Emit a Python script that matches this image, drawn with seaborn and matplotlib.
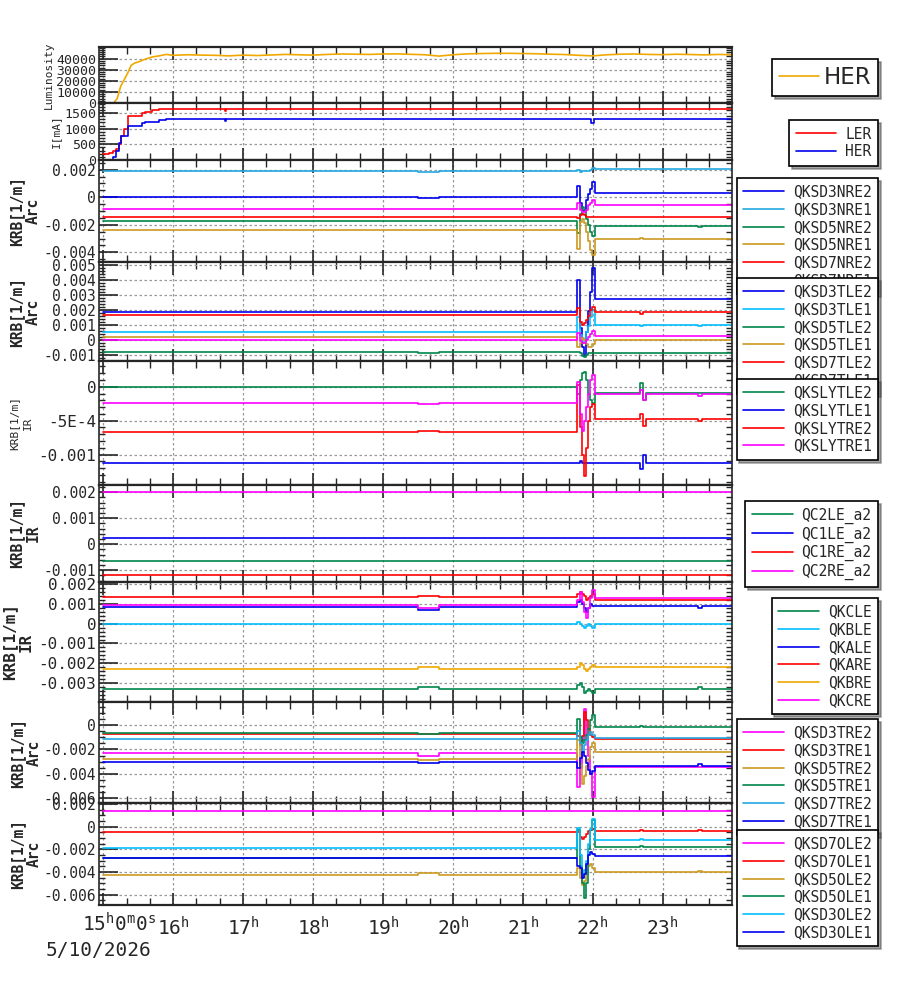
import matplotlib
matplotlib.use('Agg')
import matplotlib.pyplot as plt
import seaborn as sns
from matplotlib.ticker import AutoMinorLocator, MultipleLocator

sns.set_style('ticks')
plt.rcParams['font.family'] = ['DejaVu Sans Mono', 'DejaVu Sans']
plt.rcParams['mathtext.fontset'] = 'custom'
plt.rcParams['mathtext.rm'] = 'DejaVu Sans Mono'
plt.rcParams['mathtext.it'] = 'DejaVu Sans Mono'

# Colores
BLUE = '#0000ee'
CYAN = '#00bfff'
LBLUE = '#22a8e0'
GREEN = '#00884a'
GOLD = '#cc9922'
RED = '#ff0000'
MAG = '#ff00ff'
ORANGE = '#f0a800'

# --- Luminosidad ---
lum_t = [15.0, 15.15, 15.2, 15.25, 15.3, 15.35, 15.4, 15.45, 15.5, 15.6, 15.7, 15.8, 15.9, 16.0,
         16.2, 16.4, 16.6, 16.8, 17.0, 17.2, 17.4, 17.6, 17.8, 18.0, 18.2, 18.4, 18.6, 18.8, 19.0,
         19.2, 19.4, 19.6, 19.8, 20.0, 20.2, 20.4, 20.6, 20.8, 21.0, 21.2, 21.4, 21.6, 21.8, 22.0,
         22.2, 22.4, 22.6, 22.8, 23.0, 23.2, 23.4, 23.6, 23.8, 24.0]
lum_her = [0, 0, 4000, 15000, 21000, 27000, 34000, 36000, 37000, 39500, 41500, 42500, 43800, 43000,
           43500, 43200, 43000, 42500, 43200, 42800, 43300, 43800, 43500, 43200, 43800, 44200, 44000,
           43800, 44200, 44300, 43900, 43500, 42300, 43500, 44300, 44600, 44800, 44800, 44600, 44400,
           44000, 43700, 43000, 42500, 43500, 44000, 44200, 43800, 43600, 44000, 43700, 43400, 43800,
           43500]
lum_ticks = [0, 10000, 20000, 30000, 40000]

# --- Corrientes ---
cur_t = [15.0, 15.09, 15.14, 15.18, 15.22, 15.26, 15.3, 15.35, 15.42, 15.55, 15.6, 15.7, 15.8, 15.9,
         16.74, 16.76, 21.98, 22.02, 24.0]
ler_ma = [190, 230, 290, 340, 500, 760, 980, 1400, 1400, 1490, 1530, 1600, 1620, 1640, 1570, 1640,
          1640, 1640, 1640]
her_ma = [0, 0, 100, 300, 550, 770, 770, 1100, 1100, 1170, 1200, 1220, 1280, 1300, 1260, 1300, 1180,
          1300, 1300]
cur_ticks = [0, 500, 1000, 1500]

# --- KRB: rejilla de tiempo comun ---
krb_t = [15.0, 19.5, 19.8, 21.75, 21.78, 21.81, 21.84, 21.87, 21.9, 21.93, 21.96, 21.99, 22.03,
         22.68, 22.72, 22.76, 23.5, 23.56, 24.0]

# Arc NRE
QKSD3NRE2 = [0, -0.00005, 0, 0, 0.0008, -0.0004, -0.001, -0.0009, -0.0002, 0.0002, 0.0006, 0.0011,
             0.0003, 0.0003, 0.0003, 0.0003, 0.0003, 0.0003, 0.0003]
QKSD3NRE1 = [0.0019, 0.00185, 0.0019, 0.0019, 0.002, 0.0018, 0.0019, 0.0019, 0.0019, 0.0019, 0.002,
             0.0021, 0.00205, 0.00205, 0.00205, 0.00205, 0.00205, 0.00205, 0.00205]
QKSD5NRE2 = [-0.00175, -0.00175, -0.00175, -0.00175, -0.0026, -0.0012, -0.0007, -0.0009, -0.0016,
             -0.002, -0.0025, -0.0028, -0.0021, -0.0021, -0.0021, -0.0021, -0.00215, -0.0021, -0.0021]
QKSD5NRE1 = [-0.0024, -0.00235, -0.0024, -0.0024, -0.00375, -0.0018, -0.0016, -0.0019, -0.0025,
             -0.0032, -0.0038, -0.0042, -0.003, -0.00295, -0.003, -0.003, -0.003, -0.003, -0.003]
QKSD7NRE2 = [-0.00145, -0.00145, -0.00145, -0.00145, -0.0015, -0.0013, -0.0012, -0.0013, -0.0014,
             -0.00145, -0.00145, -0.00145, -0.00145, -0.00145, -0.00145, -0.00145, -0.00145,
             -0.00145, -0.00145]
QKSD7NRE1 = [-0.00082, -0.00085, -0.00082, -0.00082, -0.0004, -0.0009, -0.0011, -0.0011, -0.0009,
             -0.0006, -0.0004, -0.0002, -0.0006, -0.0006, -0.0006, -0.0006, -0.0006, -0.0006, -0.0006]
nre_ticks = [-0.004, -0.002, 0, 0.002]
nre_labels = ['-0.004', '-0.002', '0', '0.002']

# Arc TLE
QKSD3TLE2 = [0.00181, 0.00181, 0.00181, 0.00181, 0.004, 0.0008, -0.0005, -0.0011, 0.0005, 0.0019,
             0.0032, 0.00475, 0.00268, 0.00268, 0.00268, 0.00268, 0.00268, 0.00268, 0.00268]
QKSD3TLE1 = [0.00048, 0.0005, 0.00048, 0.00048, 0.0015, 0.0003, -0.0002, 0.0, 0.0005, 0.0009, 0.0015,
             0.002, 0.00097, 0.0009, 0.00097, 0.00097, 0.0009, 0.00097, 0.00097]
QKSD5TLE2 = [-0.00085, -0.0009, -0.00085, -0.00085, -0.0008, -0.0009, -0.0011, -0.00115, -0.001,
             -0.0009, -0.0009, -0.0009, -0.00092, -0.00092, -0.00092, -0.00092, -0.00092, -0.00092,
             -0.00092]
QKSD5TLE1 = [0.00019, 0.00019, 0.00019, 0.00019, -0.0005, -0.0002, 0.0001, 0.0, -0.0003, -0.0005,
             -0.0005, -0.0003, -0.00005, -0.00005, -0.00005, -0.00005, -0.00005, -0.00005, -0.00005]
QKSD7TLE2 = [0.00163, 0.00163, 0.00163, 0.00163, 0.0021, 0.0012, 0.001, 0.0011, 0.0013, 0.0016, 0.002,
             0.0022, 0.00181, 0.0017, 0.00181, 0.00181, 0.00181, 0.00181, 0.00181]
QKSD7TLE1 = [-0.00003, -0.00003, -0.00003, -0.00003, 0.00045, -0.0001, -0.00024, -0.0002, 0.0, 0.0002,
             0.0004, 0.0006, 0.00023, 0.00023, 0.00023, 0.00023, 0.00023, 0.00023, 0.00023]
tle_ticks = [-0.001, 0, 0.001, 0.002, 0.003, 0.004, 0.005]
tle_labels = ['-0.001', '0', '0.001', '0.002', '0.003', '0.004', '0.005']

# IR SLY
QKSLYTLE2 = [0, 0, 0, 0, -0.0001, 0.0001, 0.0002, 0.00022, 0.0001, -0.0001, -0.0002, -0.00024,
             -0.00009, 0.00005, -0.0002, -0.00009, -0.00009, -0.00009, -0.00009]
QKSLYTLE1 = [-0.00113, -0.00113, -0.00113, -0.00113, -0.00113, -0.0011, -0.00112, -0.00113, -0.00113,
             -0.00113, -0.00113, -0.00113, -0.00113, -0.00122, -0.001, -0.00113, -0.00113, -0.00113,
             -0.00113]
QKSLYTRE2 = [-0.00067, -0.00066, -0.00067, -0.00067, 0.00003, -0.0006, -0.001, -0.00132, -0.0009,
             -0.0005, -0.0003, -0.00025, -0.00048, -0.0004, -0.00058, -0.00048, -0.0005, -0.00048,
             -0.00048]
QKSLYTRE1 = [-0.000244, -0.00026, -0.000244, -0.000244, 0.00007, -0.0004, -0.00066, -0.0005, -0.0003,
             -0.0001, 0.0001, 0.00017, -0.000107, -0.00005, -0.0002, -0.000107, -0.00013, -0.000107,
             -0.000107]
sly_ticks = [-0.001, -0.0005, 0]
sly_labels = ['-0.001', '-5E-4', '0']

# IR QC (constantes)
qc_t = [15.0, 24.0]
QC2LE_a2 = [-0.00065, -0.00065]
QC1LE_a2 = [0.00025, 0.00025]
QC1RE_a2 = [-0.00119, -0.00119]
QC2RE_a2 = [0.00202, 0.00202]
qc_ticks = [-0.001, 0, 0.001, 0.002]
qc_labels = ['-0.001', '0', '0.001', '0.002']

# IR QK
QKCLE = [-0.00329, -0.0032, -0.00329, -0.00329, -0.0031, -0.003, -0.0032, -0.0035, -0.0034, -0.0033,
         -0.0034, -0.0035, -0.0033, -0.0033, -0.0033, -0.0033, -0.0032, -0.0033, -0.0033]
QKBLE = [0, 0, 0, 0, 0.0001, 0, -0.0001, -0.0002, -0.0001, 0, -0.0001, -0.0002, 0, 0, 0, 0, 0, 0, 0]
QKALE = [0.00084, 0.0007, 0.00084, 0.00084, 0.0011, 0.0012, 0.001, 0.0008, 0.0006, 0.0008, 0.001,
         0.0009, 0.0009, 0.0009, 0.0009, 0.0009, 0.0008, 0.0009, 0.0009]
QKARE = [0.00131, 0.0014, 0.00131, 0.00131, 0.0015, 0.0016, 0.0015, 0.0014, 0.0012, 0.0013, 0.0014,
         0.0015, 0.0012, 0.0012, 0.0012, 0.0012, 0.0012, 0.0012, 0.0012]
QKBRE = [-0.00229, -0.0022, -0.00229, -0.00229, -0.0022, -0.002, -0.0021, -0.0023, -0.0024, -0.0023,
         -0.0022, -0.0021, -0.0022, -0.0022, -0.0022, -0.0022, -0.0022, -0.0022, -0.0022]
QKCRE = [0.000925, 0.0008, 0.000925, 0.000925, 0.0012, 0.0016, 0.0011, 0.0006, 0.0003, 0.0008, 0.0013,
         0.0017, 0.0013, 0.0013, 0.0013, 0.0013, 0.0013, 0.0013, 0.0013]
qk_ticks = [-0.003, -0.002, -0.001, 0, 0.001, 0.002]
qk_labels = ['-0.003', '-0.002', '-0.001', '0', '0.001', '0.002']

# Arc TRE
QKSD3TRE2 = [-0.00232, -0.0025, -0.00232, -0.00232, -0.0051, -0.0035, -0.0012, 0.0013, -0.0008,
             -0.0025, -0.004, -0.0059, -0.00342, -0.00342, -0.00342, -0.00342, -0.00342, -0.00342,
             -0.00342]
QKSD3TRE1 = [-0.00076, -0.00076, -0.00076, -0.00076, -0.0009, -0.0016, -0.0009, 0.0011, 0.0004, -0.0003,
             -0.0008, -0.001, -0.00117, -0.00117, -0.00117, -0.00117, -0.00117, -0.00117, -0.00117]
QKSD5TRE2 = [-0.00281, -0.0029, -0.00281, -0.00281, -0.0012, -0.0032, -0.0048, -0.0042, -0.0034,
             -0.0028, -0.0018, -0.0015, -0.00224, -0.00224, -0.00224, -0.00224, -0.0022, -0.00224,
             -0.00224]
QKSD5TRE1 = [-0.00068, -0.0007, -0.00068, -0.00068, 0.0005, -0.001, -0.0015, -0.0012, -0.0008, -0.0003,
             0.0004, 0.0008, -0.00019, -0.0001, -0.00019, -0.00019, -0.00019, -0.00019, -0.00019]
QKSD7TRE2 = [-0.00117, -0.00117, -0.00117, -0.00117, -0.0005, -0.0015, -0.0022, -0.0016, -0.0012,
             -0.0008, -0.0006, -0.0008, -0.00109, -0.00105, -0.00109, -0.00109, -0.00109, -0.00109,
             -0.00109]
QKSD7TRE1 = [-0.00306, -0.0031, -0.00306, -0.00306, -0.0035, -0.0027, -0.0022, -0.0025, -0.0031,
             -0.0037, -0.004, -0.0038, -0.00333, -0.00333, -0.00333, -0.00333, -0.0032, -0.00333,
             -0.00333]
tre_ticks = [-0.006, -0.004, -0.002, 0]
tre_labels = ['-0.006', '-0.004', '-0.002', '0']

# Arc OLE
QKSD7OLE2 = [0.00141, 0.00141, 0.00141, 0.00141, 0.00141, 0.00141, 0.00141, 0.00141, 0.00141, 0.00141,
             0.00141, 0.00141, 0.00141, 0.00141, 0.00141, 0.00141, 0.00141, 0.00141, 0.00141]
QKSD7OLE1 = [-0.00047, -0.00047, -0.00047, -0.00047, -0.0005, -0.0009, -0.0011, -0.0009, -0.0006,
             -0.0004, -0.0003, -0.0002, -0.00035, -0.0003, -0.00035, -0.00035, -0.00025, -0.00035,
             -0.00035]
QKSD5OLE2 = [-0.00426, -0.0041, -0.00426, -0.00426, -0.0036, -0.0045, -0.0051, -0.0048, -0.0042,
             -0.0035, -0.0033, -0.0036, -0.004, -0.004, -0.004, -0.004, -0.0039, -0.004, -0.004]
QKSD5OLE1 = [-0.00279, -0.00279, -0.00279, -0.00279, -0.0003, -0.0035, -0.005, -0.0063, -0.005, -0.002,
             -0.0003, 0.0006, -0.00176, -0.0017, -0.00176, -0.00176, -0.00176, -0.00176, -0.00176]
QKSD3OLE2 = [-0.00188, -0.00188, -0.00188, -0.00188, -0.0001, -0.0025, -0.0044, -0.0038, -0.003,
             -0.0015, -0.0002, 0.0007, -0.00115, -0.0011, -0.00115, -0.00115, -0.00115, -0.00115,
             -0.00115]
QKSD3OLE1 = [-0.00273, -0.00273, -0.00273, -0.00273, -0.0035, -0.0036, -0.0045, -0.0042, -0.0033,
             -0.0025, -0.0022, -0.0024, -0.00256, -0.00256, -0.00256, -0.00256, -0.00256, -0.00256,
             -0.00256]
ole_ticks = [-0.006, -0.004, -0.002, 0, 0.002]
ole_labels = ['-0.006', '-0.004', '-0.002', '0', '0.002']

hour_ticks = [15, 16, 17, 18, 19, 20, 21, 22, 23]
hour_labels = ['', '16$^{h}$', '17$^{h}$', '18$^{h}$', '19$^{h}$', '20$^{h}$', '21$^{h}$',
               '22$^{h}$', '23$^{h}$']

W, H = 900, 984
fig = plt.figure(figsize=(W / 100, H / 100), dpi=100)

# limites de paneles en pixeles (desde arriba)
edges = [47, 103, 160, 262, 361, 485, 582, 702, 803, 905]
X0, X1 = 99, 732


def make_ax(i):
    top, bot = edges[i], edges[i + 1]
    return fig.add_axes([X0 / W, 1 - bot / H, (X1 - X0) / W, (bot - top) / H])


def style_ax(ax, ylim, ticks, labels, tsize, minor):
    ax.set_xlim(14.94, 23.99)
    ax.set_ylim(*ylim)
    ax.set_yticks(ticks)
    ax.set_yticklabels(labels)
    ax.yaxis.set_minor_locator(AutoMinorLocator(minor))
    ax.set_xticks(hour_ticks)
    ax.xaxis.set_minor_locator(MultipleLocator(1 / 3))
    ax.tick_params(axis='y', which='major', direction='in', length=14, width=1.2, labelsize=tsize,
                   pad=2, left=True, right=False)
    ax.tick_params(axis='y', which='minor', direction='in', length=4, width=1, left=True, right=True)
    ax.tick_params(axis='x', which='major', direction='in', length=9, width=1.2, top=True,
                   bottom=True, labelbottom=False)
    ax.tick_params(axis='x', which='minor', direction='in', length=5, width=1, top=True, bottom=True)
    ax.grid(True, which='major', color='#999999', linestyle=(0, (2, 2)), linewidth=0.9)
    for s in ['left', 'right']:
        ax.spines[s].set_linewidth(1.2)
    for s in ['top', 'bottom']:
        ax.spines[s].set_linewidth(1.6)
    ax.set_xlabel('')


def ylab(ax, text, size, weight, xc, ls=1.1):
    ax.set_ylabel(text, fontsize=size, fontweight=weight, linespacing=ls)
    ax.yaxis.label.set_va('center')
    ax.yaxis.set_label_coords(xc, 0.5)


def leg(ax, right, top, size=10.5, family='DejaVu Sans Mono', hl=2.8, htp=0.6, bp=0.45):
    lg = ax.legend(loc='upper right', bbox_to_anchor=(right / W, 1 - top / H),
                   bbox_transform=fig.transFigure, borderaxespad=0, fancybox=False, shadow=True,
                   framealpha=1, edgecolor='black', prop={'family': family, 'size': size},
                   handlelength=hl, labelspacing=0.18, borderpad=bp, handletextpad=htp)
    lg.get_frame().set_linewidth(1.2)
    lg.set_zorder(20)


def draw(ax, t, series):
    for name, vals, col in series:
        sns.lineplot(x=t, y=vals, ax=ax, color=col, linewidth=1.2, drawstyle='steps-post',
                     label=name, legend=False, estimator=None, errorbar=None)


axes = [make_ax(i) for i in range(9)]

# 1 Luminosidad
ax = axes[0]
sns.lineplot(x=lum_t, y=lum_her, ax=ax, color=ORANGE, linewidth=1.2, label='HER', legend=False,
             estimator=None, errorbar=None)
style_ax(ax, (0, 50500), lum_ticks, [str(v) for v in lum_ticks], 9.5, 5)
ylab(ax, 'Luminosity', 8, 'normal', -0.079)
leg(ax, 878, 59, size=16.5, family='DejaVu Sans', hl=1.75, htp=0.2, bp=0.3)

# 2 Corriente
ax = axes[1]
draw(ax, cur_t, [('LER', ler_ma, RED), ('HER', her_ma, BLUE)])
style_ax(ax, (0, 1820), cur_ticks, [str(v) for v in cur_ticks], 9.5, 5)
ylab(ax, 'I[mA]', 8, 'normal', -0.068)
leg(ax, 878, 120)

# 3 Arc NRE
ax = axes[2]
draw(ax, krb_t, [('QKSD3NRE2', QKSD3NRE2, BLUE), ('QKSD3NRE1', QKSD3NRE1, LBLUE),
                 ('QKSD5NRE2', QKSD5NRE2, GREEN), ('QKSD5NRE1', QKSD5NRE1, GOLD),
                 ('QKSD7NRE2', QKSD7NRE2, RED), ('QKSD7NRE1', QKSD7NRE1, MAG)])
style_ax(ax, (-0.0047, 0.0027), nre_ticks, nre_labels, 10.5, 4)
ylab(ax, 'KRB[1/m]\nArc', 10.5, 'bold', -0.117)
leg(ax, 878, 178)

# 4 Arc TLE
ax = axes[3]
draw(ax, krb_t, [('QKSD3TLE2', QKSD3TLE2, BLUE), ('QKSD3TLE1', QKSD3TLE1, CYAN),
                 ('QKSD5TLE2', QKSD5TLE2, GREEN), ('QKSD5TLE1', QKSD5TLE1, GOLD),
                 ('QKSD7TLE2', QKSD7TLE2, RED), ('QKSD7TLE1', QKSD7TLE1, MAG)])
style_ax(ax, (-0.00143, 0.00517), tle_ticks, tle_labels, 10.5, 5)
ylab(ax, 'KRB[1/m]\nArc', 10.5, 'bold', -0.117)
leg(ax, 878, 278)

# 5 IR SLY
ax = axes[4]
draw(ax, krb_t, [('QKSLYTLE2', QKSLYTLE2, GREEN), ('QKSLYTLE1', QKSLYTLE1, BLUE),
                 ('QKSLYTRE2', QKSLYTRE2, RED), ('QKSLYTRE1', QKSLYTRE1, MAG)])
style_ax(ax, (-0.00145, 0.00038), sly_ticks, sly_labels, 11.5, 5)
ylab(ax, 'KRB[1/m]\nIR', 8, 'normal', -0.123, ls=1.5)
leg(ax, 878, 379)

# 6 IR QC
ax = axes[5]
draw(ax, qc_t, [('QC2LE_a2', QC2LE_a2, GREEN), ('QC1LE_a2', QC1LE_a2, BLUE),
                ('QC1RE_a2', QC1RE_a2, RED), ('QC2RE_a2', QC2RE_a2, MAG)])
style_ax(ax, (-0.00145, 0.00228), qc_ticks, qc_labels, 10.5, 5)
ylab(ax, 'KRB[1/m]\nIR', 10.5, 'bold', -0.117)
leg(ax, 878, 501)

# 7 IR QK
ax = axes[6]
draw(ax, krb_t, [('QKCLE', QKCLE, GREEN), ('QKBLE', QKBLE, CYAN), ('QKALE', QKALE, BLUE),
                 ('QKARE', QKARE, RED), ('QKBRE', QKBRE, ORANGE), ('QKCRE', QKCRE, MAG)])
style_ax(ax, (-0.00393, 0.00208), qk_ticks, qk_labels, 11.5, 5)
ylab(ax, 'KRB[1/m]\nIR', 11.5, 'bold', -0.128)
leg(ax, 878, 598)

# 8 Arc TRE
ax = axes[7]
draw(ax, krb_t, [('QKSD3TRE2', QKSD3TRE2, MAG), ('QKSD3TRE1', QKSD3TRE1, RED),
                 ('QKSD5TRE2', QKSD5TRE2, GOLD), ('QKSD5TRE1', QKSD5TRE1, GREEN),
                 ('QKSD7TRE2', QKSD7TRE2, LBLUE), ('QKSD7TRE1', QKSD7TRE1, BLUE)])
style_ax(ax, (-0.0064, 0.0019), tre_ticks, tre_labels, 10.5, 4)
ylab(ax, 'KRB[1/m]\nArc', 10.5, 'bold', -0.115)
leg(ax, 878, 719)

# 9 Arc OLE
ax = axes[8]
draw(ax, krb_t, [('QKSD7OLE2', QKSD7OLE2, MAG), ('QKSD7OLE1', QKSD7OLE1, RED),
                 ('QKSD5OLE2', QKSD5OLE2, GOLD), ('QKSD5OLE1', QKSD5OLE1, GREEN),
                 ('QKSD3OLE2', QKSD3OLE2, CYAN), ('QKSD3OLE1', QKSD3OLE1, BLUE)])
style_ax(ax, (-0.0069, 0.0021), ole_ticks, ole_labels, 10.5, 4)
ylab(ax, 'KRB[1/m]\nArc', 10.5, 'bold', -0.115)
leg(ax, 878, 830)
ax.set_xticklabels(hour_labels)
ax.tick_params(axis='x', which='major', labelbottom=True, labelsize=14, pad=8)

fig.text(82 / W, 1 - 932 / H, '15$^{h}$0$^{m}$0$^{s}$', fontsize=14, va='baseline', ha='left')
fig.text(46 / W, 1 - 956 / H, '5/10/2026', fontsize=14, va='baseline', ha='left')

fig.savefig('out.png', dpi=100)
